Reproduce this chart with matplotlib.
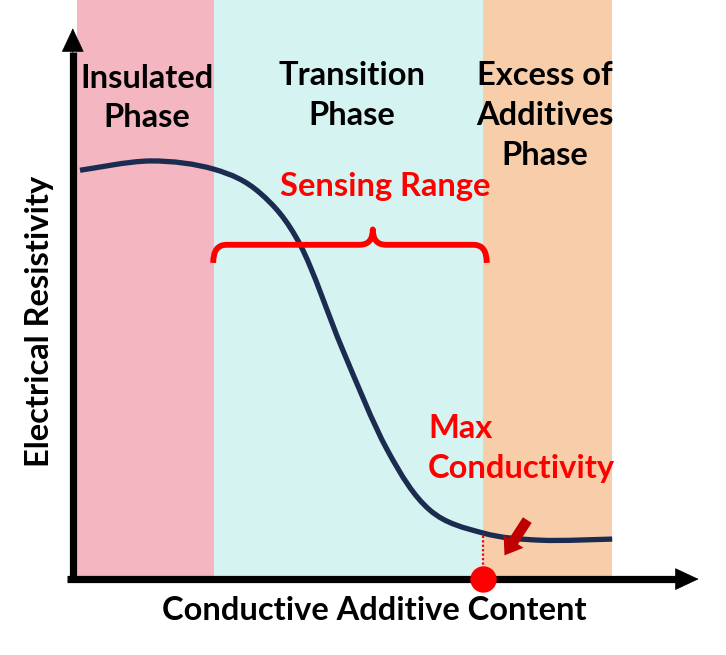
import numpy as np
import matplotlib
matplotlib.use("Agg")
import matplotlib.pyplot as plt
from matplotlib.path import Path
from matplotlib.patches import PathPatch, FancyArrowPatch

# ---------------- data ----------------
content = [0.5, 12.2, 22.8, 30.5, 37.2, 44.3, 51.7, 58.8, 67.7, 77.2, 89.2]
resistivity = [74.4, 76.1, 74.6, 70.25, 60.8, 41.6, 23.4, 12.4, 8.2, 6.9, 7.1]
phase_edges = [0.0, 22.8, 67.7, 89.2]
phase_labels = ["Insulated\nPhase", "Transition\nPhase", "Excess of\nAdditives\nPhase"]
phase_colors = ["#f4b6c1", "#d5f3f0", "#f8cda9"]
max_cond_x = 67.7
max_cond_y = 8.2
sensing_range = [22.7, 68.3]
sensing_mid = 49.3
xlabel = "Conductive Additive Content"
ylabel = "Electrical Resistivity"

FONT = ["Lato", "DejaVu Sans"]
FS = 23.5
LS = 1.45

fig = plt.figure(figsize=(7.26, 6.55), dpi=100)
ax = fig.add_axes([0, 0, 1, 1])
ax.set_xlim(-12.833, 108.167)
ax.set_ylim(-14.05, 105.47)
ax.axis("off")

# phase bands
for i in range(3):
    ax.axvspan(phase_edges[i], phase_edges[i + 1], ymin=14.05 / (105.47 + 14.05), ymax=1,
               color=phase_colors[i], lw=0, zorder=0)

# smooth curve through points (Catmull-Rom -> cubic Bezier)
P = np.column_stack([content, resistivity])
verts = [tuple(P[0])]
codes = [Path.MOVETO]
n = len(P)
for i in range(n - 1):
    p0 = P[i - 1] if i > 0 else P[i]
    p1 = P[i]
    p2 = P[i + 1]
    p3 = P[i + 2] if i + 2 < n else P[i + 1]
    c1 = p1 + (p2 - p0) / 6.0
    c2 = p2 - (p3 - p1) / 6.0
    verts += [tuple(c1), tuple(c2), tuple(p2)]
    codes += [Path.CURVE4] * 3
ax.add_patch(PathPatch(Path(verts, codes), facecolor="none", edgecolor="#1c2b50", lw=3.8,
                       capstyle="butt", zorder=3))

# axes lines with arrow heads
ax.plot([-0.7, -0.7], [-0.8, 96], color="black", lw=5.2, solid_capstyle="butt", zorder=5)
ax.plot([-1.6, 100], [-0.2, -0.2], color="black", lw=5.2, solid_capstyle="butt", zorder=5)
ax.annotate("", xy=(-0.7, 100.3), xytext=(-0.7, 95),
            arrowprops=dict(arrowstyle="-|>,head_length=16,head_width=7.5", color="black", lw=0.5,
                            shrinkA=0, shrinkB=0, mutation_scale=1), zorder=6)
ax.annotate("", xy=(103.6, -0.2), xytext=(99, -0.2),
            arrowprops=dict(arrowstyle="-|>,head_length=16,head_width=7.5", color="black", lw=0.5,
                            shrinkA=0, shrinkB=0, mutation_scale=1), zorder=6)

# phase labels
label_pos = [(11.7, 87.6), (45.8, 88.0), (78.0, 84.4)]
for (x, y), t in zip(label_pos, phase_labels):
    ax.text(x, y, t, ha="center", va="center", fontsize=FS, fontweight="bold",
            family=FONT, linespacing=LS, color="black", zorder=4)

# sensing range bracket
xl, xr = sensing_range
xm = sensing_mid
yb, yl, yt = 57.5, 60.8, 63.6
r = 2.2
bverts = [(xl, yb), (xl, yl), (xl + r, yl), (xm - r, yl), (xm, yl), (xm, yt),
          (xm, yl), (xm + r, yl), (xr - r, yl), (xr, yl), (xr, yb)]
bcodes = [Path.MOVETO, Path.CURVE3, Path.CURVE3, Path.LINETO, Path.CURVE3, Path.CURVE3,
          Path.CURVE3, Path.CURVE3, Path.LINETO, Path.CURVE3, Path.CURVE3]
ax.add_patch(PathPatch(Path(bverts, bcodes), facecolor="none", edgecolor="#ff0000", lw=4.2,
                       capstyle="butt", joinstyle="round", zorder=4))
ax.text(51.3, 71.4, "Sensing Range", ha="center", va="center", fontsize=FS, fontweight="bold",
        family=FONT, color="#ff0000", zorder=4)

# max conductivity
ax.text(58.5, 23.7, "Max\nConductivity", ha="left", va="center", fontsize=FS, fontweight="bold",
        family=FONT, linespacing=LS, color="#ff0000", zorder=4)
ax.plot([max_cond_x, max_cond_x], [0, max_cond_y], color="#ff0000", lw=1.6, ls=(0, (1, 1)), zorder=4)
ax.plot([max_cond_x], [-0.2], "o", color="#ff0000", ms=19, mec="none", zorder=7)
ax.add_patch(FancyArrowPatch((75.3, 11.0), (71.0, 3.7),
                             arrowstyle="simple,head_length=12,head_width=17,tail_width=7.5",
                             mutation_scale=1, color="#c00000", lw=0, zorder=6))

# axis labels
ax.text(49.5, -5.84, xlabel, ha="center", va="center", fontsize=FS, fontweight="bold",
        family=FONT, color="black")
ax.text(-6.2, 46.9, ylabel, ha="center", va="center", rotation=90, fontsize=FS, fontweight="bold",
        family=FONT, color="black")

fig.savefig("out.png", dpi=100)
